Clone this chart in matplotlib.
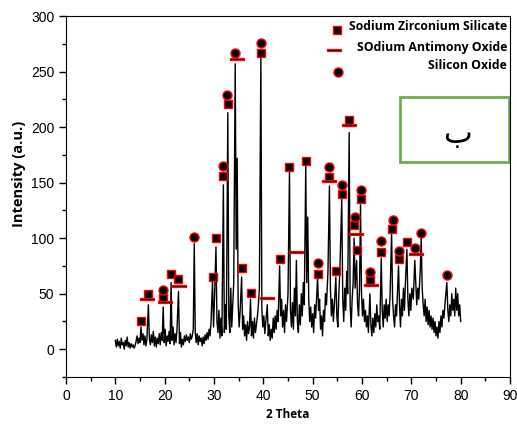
import numpy as np
import matplotlib.pyplot as plt
from matplotlib.path import Path
from matplotlib.patches import Rectangle
from matplotlib.ticker import MultipleLocator

# XRD trace (2 theta, intensity)
two_theta = [
    10.0, 10.2, 10.4, 10.6, 10.8, 11.0, 11.2, 11.4, 11.6, 11.8, 12.0, 12.2, 12.4, 12.6, 12.8,
    13.0, 13.2, 13.4, 13.6, 13.8, 14.0, 14.2, 14.4, 14.6, 14.8, 15.0, 15.2, 15.4, 15.6, 15.8,
    16.0, 16.2, 16.4, 16.7, 16.9, 17.1, 17.3, 17.5, 17.7, 17.9, 18.1, 18.3, 18.5, 18.7, 18.9,
    19.1, 19.3, 19.5, 19.7, 19.9, 20.1, 20.3, 20.5, 20.7, 20.9, 21.1, 21.3, 21.5, 21.7, 21.9,
    22.1, 22.3, 22.5, 22.8, 23.0, 23.2, 23.4, 23.6, 23.8, 24.0, 24.2, 24.4, 24.6, 24.8, 25.0,
    25.2, 25.4, 25.6, 25.8, 26.0, 26.2, 26.4, 26.6, 26.8, 27.0, 27.2, 27.4, 27.6, 27.8, 28.0,
    28.2, 28.4, 28.6, 28.8, 29.0, 29.2, 29.4, 29.7, 29.9, 30.1, 30.4, 30.6, 30.8, 31.0, 31.2,
    31.4, 31.6, 31.9, 32.1, 32.3, 32.5, 32.8, 33.0, 33.2, 33.4, 33.6, 33.8, 34.0, 34.3, 34.5,
    34.7, 34.9, 35.1, 35.3, 35.6, 35.8, 36.0, 36.2, 36.4, 36.6, 36.8, 37.0, 37.2, 37.4, 37.6,
    37.8, 38.0, 38.2, 38.4, 38.6, 38.8, 39.0, 39.2, 39.5, 39.7, 39.9, 40.1, 40.3, 40.5, 40.8,
    41.0, 41.2, 41.4, 41.6, 41.8, 42.0, 42.2, 42.4, 42.6, 42.8, 43.0, 43.3, 43.5, 43.7, 43.9,
    44.1, 44.3, 44.5, 44.7, 45.0, 45.3, 45.5, 45.7, 45.9, 46.1, 46.3, 46.5, 46.7, 46.9, 47.1,
    47.3, 47.5, 47.7, 47.9, 48.1, 48.3, 48.6, 48.8, 49.0, 49.2, 49.4, 49.6, 49.8, 50.0, 50.2,
    50.4, 50.6, 51.0, 51.2, 51.4, 51.6, 51.8, 52.0, 52.2, 52.4, 52.6, 52.8, 53.1, 53.4, 53.6,
    53.8, 54.0, 54.2, 54.4, 54.7, 54.9, 55.1, 55.3, 55.5, 55.9, 56.1, 56.3, 56.5, 56.7, 56.9,
    57.1, 57.4, 57.6, 57.8, 58.0, 58.2, 58.4, 58.6, 58.9, 59.1, 59.3, 59.5, 59.7, 59.9, 60.1,
    60.3, 60.5, 60.7, 60.9, 61.1, 61.3, 61.6, 61.8, 62.0, 62.2, 62.4, 62.6, 62.8, 63.0, 63.2,
    63.4, 63.6, 63.9, 64.1, 64.3, 64.5, 64.7, 64.9, 65.1, 65.3, 65.5, 65.7, 66.0, 66.2, 66.4,
    66.6, 66.8, 67.0, 67.4, 67.6, 67.8, 68.0, 68.2, 68.4, 68.6, 68.8, 69.1, 69.3, 69.5, 69.7,
    69.9, 70.1, 70.4, 70.7, 70.9, 71.1, 71.3, 71.5, 71.8, 72.0, 72.2, 72.4, 72.6, 72.8, 73.0,
    73.2, 73.4, 73.6, 73.8, 74.0, 74.2, 74.4, 74.6, 74.8, 75.0, 75.2, 75.4, 75.6, 75.8, 76.0,
    76.2, 76.4, 76.6, 76.9, 77.2, 77.4, 77.6, 77.8, 78.0, 78.2, 78.4, 78.6, 78.8, 79.0, 79.2,
    79.4, 79.6, 79.8, 80.0,
]
intensity = [
    8, 2, 9, 3, 7, 1, 10, 4, 6, 0, 8, 3, 11, 2, 6,
    1, 5, 2, 4, 1, 3, 7, 12, 5, 10, 6, 20, 8, 14, 4,
    12, 3, 9, 40, 10, 4, 13, 6, 16, 3, 11, 2, 10, 5, 14,
    4, 15, 8, 38, 6, 18, 3, 12, 7, 16, 5, 60, 8, 20, 4,
    14, 6, 18, 52, 5, 15, 2, 9, 4, 12, 7, 13, 8, 11, 6,
    14, 9, 12, 18, 95, 15, 6, 14, 4, 12, 7, 10, 3, 11, 5,
    13, 8, 15, 9, 18, 12, 25, 62, 20, 45, 92, 25, 15, 35, 10,
    28, 12, 148, 15, 40, 18, 213, 30, 15, 55, 20, 40, 60, 257, 90,
    172, 40, 20, 35, 65, 18, 30, 12, 22, 8, 25, 14, 20, 45, 12,
    25, 10, 28, 15, 22, 30, 40, 55, 262, 35, 20, 30, 14, 25, 40,
    12, 22, 8, 18, 10, 28, 15, 30, 18, 35, 25, 75, 30, 45, 20,
    35, 15, 40, 25, 50, 160, 35, 20, 42, 18, 55, 30, 80, 25, 15,
    40, 22, 50, 30, 60, 40, 165, 60, 119, 45, 25, 38, 20, 32, 15,
    40, 28, 65, 35, 45, 18, 30, 12, 35, 25, 50, 40, 70, 147, 55,
    30, 45, 25, 40, 65, 30, 20, 50, 70, 135, 45, 25, 55, 35, 70,
    50, 195, 40, 20, 45, 60, 100, 55, 80, 40, 30, 55, 130, 50, 30,
    45, 25, 35, 20, 30, 15, 50, 22, 12, 28, 15, 32, 20, 40, 25,
    30, 18, 82, 35, 20, 40, 28, 45, 25, 40, 30, 50, 105, 45, 30,
    20, 40, 30, 75, 40, 20, 45, 30, 55, 35, 60, 90, 45, 30, 50,
    35, 55, 45, 80, 60, 40, 55, 45, 70, 100, 55, 40, 30, 45, 25,
    38, 22, 35, 20, 30, 18, 28, 15, 25, 12, 20, 10, 25, 15, 30,
    20, 35, 28, 45, 60, 35, 25, 40, 30, 50, 35, 45, 30, 55, 35,
    50, 30, 40, 25,
]

# phase markers (2 theta, intensity)
zirconium_x = [15.2, 16.7, 19.7, 21.3, 22.8, 29.7, 30.4, 31.9, 32.8, 35.6, 37.4, 39.6, 43.3, 45.3,
               48.6, 51.1, 53.4, 54.7, 55.9, 57.4, 58.4, 58.9, 59.7, 61.6, 63.9, 66.0, 67.4, 69.1]
zirconium_y = [25.5, 49.5, 46, 67.5, 63, 65.4, 100.5, 155.7, 220.8, 73, 51, 267, 81.3, 164.4,
               169.8, 68, 155.4, 70.8, 139.8, 206.7, 111.6, 89, 135, 62.4, 87.6, 108.6, 81.3, 96.3]
antimony_x = [16.5, 20.0, 22.9, 34.7, 40.8, 46.7, 53.3, 57.4, 58.7, 61.8, 70.85]
antimony_y = [45, 42.6, 57.3, 261, 46.5, 87.5, 151.2, 202, 104, 58, 85.5]
silicon_x = [19.7, 26.0, 31.9, 32.6, 34.3, 39.5, 51.0, 53.4, 55.9, 58.5, 59.8, 61.6, 63.9, 66.2,
             67.4, 70.7, 72.0, 77.2]
silicon_y = [53.6, 100.8, 165, 228.6, 267, 276, 78, 164.4, 148, 119.4, 143.7, 69.3, 97.2, 116.4,
             88.8, 90.9, 104.4, 67]

legend_labels = ['Sodium Zirconium Silicate', 'SOdium Antimony Oxide', 'Silicon Oxide']

bar_marker = Path([(-1, -0.2), (1, -0.2), (1, 0.2), (-1, 0.2), (-1, -0.2)],
                  [Path.MOVETO, Path.LINETO, Path.LINETO, Path.LINETO, Path.CLOSEPOLY])

styles = [
    dict(marker='s', markersize=5.5, markerfacecolor='black', markeredgecolor='red', markeredgewidth=1),
    dict(marker=bar_marker, markersize=10.5, markerfacecolor='black', markeredgecolor='red', markeredgewidth=0.9),
    dict(marker='o', markersize=6.5, markerfacecolor='black', markeredgecolor='red', markeredgewidth=1),
]

plt.rcParams['font.family'] = ['Liberation Sans', 'DejaVu Sans']

fig = plt.figure(figsize=(5.17, 4.28), dpi=100)
ax = fig.add_axes([66 / 517, 51 / 428, 444 / 517, 361 / 428])

ax.plot(two_theta, intensity, color='black', linewidth=1)
for (xs, ys), st in zip([(zirconium_x, zirconium_y), (antimony_x, antimony_y), (silicon_x, silicon_y)], styles):
    ax.plot(xs, ys, linestyle='none', **st)

ax.set_xlim(0, 90)
ax.set_ylim(-25, 300)
ax.xaxis.set_major_locator(MultipleLocator(10))
ax.xaxis.set_minor_locator(MultipleLocator(5))
ax.yaxis.set_major_locator(MultipleLocator(50))
ax.yaxis.set_minor_locator(MultipleLocator(25))
ax.tick_params(which='both', direction='out', top=False, right=False, labelsize=10)
ax.tick_params(which='major', length=5, width=1)
ax.tick_params(which='minor', length=3, width=1)
ax.set_yticks([0, 50, 100, 150, 200, 250, 300])

bold_family = ['Open Sans', 'DejaVu Sans']
ax.set_xlabel('2 Theta', labelpad=4, family=bold_family, fontweight='bold', fontsize=8.5)
ax.set_ylabel('Intensity (a.u.)', family=bold_family, fontweight='bold', fontsize=10.5)
ax.yaxis.set_label_coords(-0.09, 0.562)

# hand-placed legend, text right-aligned like the original
leg_marker_pos = [(0.610, 0.962), (0.604, 0.907), (0.613, 0.846)]
leg_text_y = [0.970, 0.914, 0.864]
for (mx, my), ty, st, lab in zip(leg_marker_pos, leg_text_y, styles, legend_labels):
    ax.plot([mx], [my], transform=ax.transAxes, linestyle='none', clip_on=False, **st)
    ax.text(0.993, ty, lab, transform=ax.transAxes, ha='right', va='center',
            family=bold_family, fontweight='bold', fontsize=8.8)

# green box with Arabic letter
ax.add_patch(Rectangle((0.752, 0.596), 0.246, 0.180, transform=ax.transAxes,
                       fill=False, edgecolor='#70AD47', linewidth=2))
ax.text(0.881, 0.672, 'ب', transform=ax.transAxes, ha='center', va='center',
        fontsize=22, family='DejaVu Sans')

fig.savefig('out.png', dpi=100, facecolor='white')
